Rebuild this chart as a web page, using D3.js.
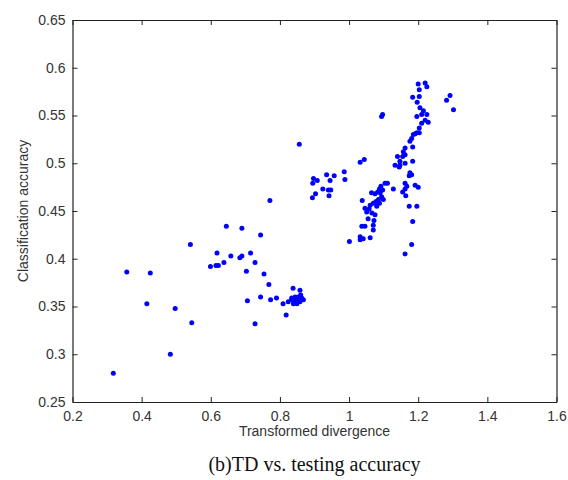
<!DOCTYPE html>
<html>
<head>
<meta charset="utf-8">
<script src="https://cdn.jsdelivr.net/npm/d3@7"></script>
<style>
  body { margin: 0; background: #fff; }
  .tick text { font-family: Arial, "Liberation Sans", sans-serif; font-size: 14px; fill: #333; }
  .axis-label { font-family: Arial, "Liberation Sans", sans-serif; font-size: 14px; fill: #333; text-anchor: middle; }
  .caption { font-family: "Times New Roman", "Liberation Serif", serif; font-size: 20px; fill: #111; text-anchor: middle; }
</style>
</head>
<body>
<svg class="scatter" width="568" height="480"></svg>
<script>
// transformed divergence (x) vs classification accuracy (y)
var tdLow = [0.318,0.357,0.425,0.415,0.497,0.483,0.545,0.541,0.645,0.690,0.744,0.618,0.658,0.684,0.690,0.715,0.728,0.638,0.599,0.615,0.622,0.703,0.754,0.768,0.706,0.744,0.773,0.790,0.728,0.809,0.818,0.838,0.858,0.771,0.856,
  0.824,0.834,0.844,0.853,0.863,0.868,0.858,0.849,0.839,0.834,0.846,0.852,0.860,0.841];
var accLow = [0.280,0.386,0.385,0.353,0.348,0.300,0.333,0.415,0.434,0.432,0.425,0.406,0.403,0.401,0.403,0.406,0.396,0.396,0.392,0.393,0.393,0.387,0.384,0.373,0.356,0.360,0.357,0.359,0.332,0.353,0.341,0.369,0.367,0.461,0.520,
  0.355,0.359,0.360,0.360,0.359,0.357,0.355,0.353,0.353,0.357,0.357,0.356,0.362,0.355];

var tdMid = [0.897,0.908,0.895,0.935,0.957,0.945,0.986,0.988,0.924,0.940,0.947,0.903,0.894,0.942,1.032,1.044,1.038];
var accMid = [0.484,0.482,0.479,0.488,0.487,0.482,0.491,0.483,0.473,0.472,0.472,0.468,0.464,0.466,0.501,0.504,0.461];

var tdHigh = [1.140,1.162,1.147,1.162,1.104,1.111,1.128,1.065,1.090,1.094,1.085,1.070,1.078,1.061,1.080,1.051,1.066,1.075,1.046,1.099,
  1.155,1.162,1.037,1.046,1.070,1.070,1.032,1.041,1.061,1.032,1.001,
  1.075,1.083,1.058,1.088,1.072,1.055,1.092,1.097,1.088,1.094,1.097,
  1.191,1.203,1.181,1.176,1.162,1.157,1.184,1.155,1.147,1.133,1.145,1.184,1.176,1.174,1.181,1.167,1.191,1.200,1.162,1.164,1.174,1.196,1.184,1.181,1.162,
  1.200,1.220,1.225,1.203,1.184,1.203,1.197,1.292,1.282,1.302,1.205,1.215,1.196,1.210,1.225,1.220,1.229,1.210,1.203,1.196,1.186];
var accHigh = [0.507,0.509,0.498,0.500,0.479,0.479,0.473,0.469,0.469,0.465,0.462,0.458,0.460,0.456,0.455,0.449,0.448,0.446,0.453,0.462,
  0.470,0.479,0.434,0.434,0.435,0.430,0.423,0.421,0.422,0.420,0.418,
  0.468,0.470,0.452,0.458,0.440,0.442,0.476,0.472,0.473,0.549,0.551,
  0.531,0.532,0.526,0.523,0.516,0.512,0.517,0.507,0.502,0.498,0.496,0.502,0.490,0.487,0.488,0.476,0.477,0.475,0.473,0.466,0.455,0.455,0.439,0.415,0.405,
  0.583,0.584,0.580,0.577,0.569,0.570,0.564,0.571,0.566,0.556,0.558,0.555,0.549,0.551,0.551,0.545,0.543,0.542,0.537,0.532,0.530];

var xTicks = [0.2,0.4,0.6,0.8,1,1.2,1.4,1.6];
var yTicks = [0.25,0.3,0.35,0.4,0.45,0.5,0.55,0.6,0.65];

var margin = { top: 20, right: 11.5, bottom: 78, left: 72.5 };
var width = 568 - margin.left - margin.right;
var height = 480 - margin.top - margin.bottom;

var svg = d3.select(".scatter")
  .append("g")
  .attr("transform", "translate(" + margin.left + "," + margin.top + ")");

var x = d3.scaleLinear().domain([0.2, 1.6]).range([0, width]);
var y = d3.scaleLinear().domain([0.25, 0.65]).range([height, 0]);

var fmt = d => String(d);

// axes, MATLAB style: ticks inside, box all round
svg.append("g").attr("transform", "translate(0," + height + ")")
  .call(d3.axisBottom(x).tickValues(xTicks).tickFormat(fmt).tickSizeInner(-5).tickSizeOuter(0).tickPadding(9));
svg.append("g")
  .call(d3.axisLeft(y).tickValues(yTicks).tickFormat(fmt).tickSizeInner(-5).tickSizeOuter(0).tickPadding(7));
svg.append("g")
  .call(d3.axisTop(x).tickValues(xTicks).tickFormat("").tickSizeInner(-5).tickSizeOuter(0));
svg.append("g").attr("transform", "translate(" + width + ",0)")
  .call(d3.axisRight(y).tickValues(yTicks).tickFormat("").tickSizeInner(-5).tickSizeOuter(0));
svg.selectAll(".domain").attr("stroke", "#222").attr("stroke-width", 1.2);
svg.selectAll(".tick line").attr("stroke", "#222");

// points
var pts = [];
[[tdLow, accLow], [tdMid, accMid], [tdHigh, accHigh]].forEach(function(s) {
  s[0].forEach(function(v, i) { pts.push({ td: v, acc: s[1][i] }); });
});
svg.append("g").selectAll("circle")
  .data(pts)
  .enter()
  .append("circle")
  .attr("cx", d => x(d.td))
  .attr("cy", d => y(d.acc))
  .attr("r", 2.5)
  .attr("fill", "#0000ff");

// labels
svg.append("text").attr("class", "axis-label")
  .attr("x", width / 2).attr("y", height + 34)
  .text("Transformed divergence");
svg.append("text").attr("class", "axis-label")
  .attr("x", -height / 2).attr("y", -45)
  .attr("transform", "rotate(-90)")
  .text("Classification accuracy");
svg.append("text").attr("class", "caption")
  .attr("x", width / 2).attr("y", height + 69)
  .text("(b)TD vs. testing accuracy");
</script>
</body>
</html>
